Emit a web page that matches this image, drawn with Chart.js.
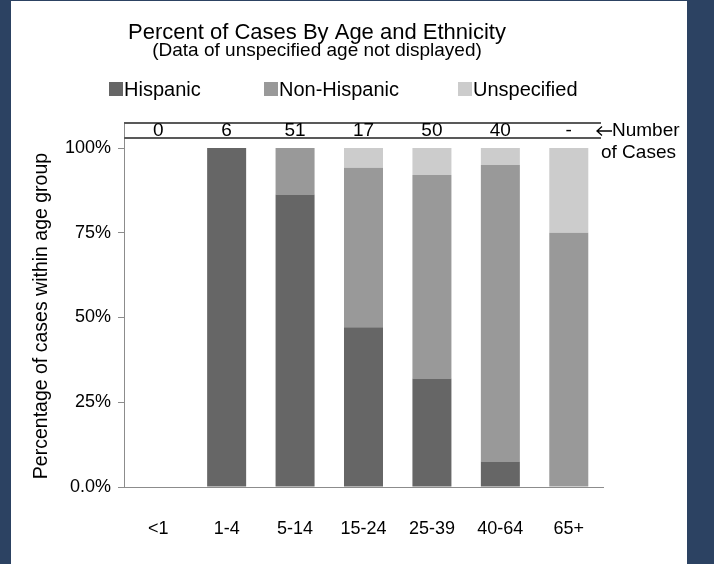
<!DOCTYPE html>
<html>
<head>
<meta charset="utf-8">
<script src="https://cdn.jsdelivr.net/npm/chart.js@4/dist/chart.umd.min.js"></script>
<style>
  html, body { margin: 0; padding: 0; background: #2c4262; }
  #c { display: block; }
</style>
</head>
<body>
<canvas id="c" width="714" height="564"></canvas>
<script>
// Age groups along the x axis
const ageGroups = ['<1', '1-4', '5-14', '15-24', '25-39', '40-64', '65+'];
// Share of cases within each age group (percent)
const hispanic    = [0, 100, 86.3, 47.1, 32, 7.5, 0];
const nonHispanic = [0, 0, 13.7, 47.1, 60, 87.5, 75];
const unspecified = [0, 0, 0, 5.9, 8, 5, 25];
// Number of cases per age group, shown in the strip above the bars
const caseCounts = ['0', '6', '51', '17', '50', '40', '-'];
// Percent ticks on the y axis
const yTicks = [0, 25, 50, 75, 100];

const FONT = '"Liberation Sans", Arial, Helvetica, sans-serif';
const NAVY = '#2c4262';
const AXIS = '#8c8c8c';

const framePlugin = {
  id: 'frame',
  beforeDraw(chart) {
    const ctx = chart.ctx;
    ctx.save();
    ctx.fillStyle = NAVY;
    ctx.fillRect(0, 0, chart.width, chart.height);
    ctx.fillStyle = '#ffffff';
    ctx.fillRect(11, 1, 676, chart.height - 1);
    ctx.restore();
  },
  afterDraw(chart) {
    const ctx = chart.ctx;
    const area = chart.chartArea;
    const xs = chart.scales.x;
    ctx.save();
    ctx.fillStyle = '#000';
    ctx.textAlign = 'center';
    ctx.textBaseline = 'middle';

    // Titles
    ctx.font = '22px ' + FONT;
    ctx.fillText('Percent of Cases By Age and Ethnicity', 317, 33);
    ctx.font = '19px ' + FONT;
    ctx.fillText('(Data of unspecified age not displayed)', 317, 51);

    // Legend
    const legendX = [109, 264, 458];
    ctx.textAlign = 'left';
    ctx.font = '20px ' + FONT;
    chart.data.datasets.forEach((ds, i) => {
      ctx.fillStyle = ds.backgroundColor;
      ctx.fillRect(legendX[i], 82, 14, 14);
      ctx.fillStyle = '#000';
      ctx.fillText(ds.label, legendX[i] + 15, 90);
    });

    // Y axis continues up through the case-count strip
    ctx.strokeStyle = AXIS;
    ctx.lineWidth = 1;
    ctx.beginPath();
    ctx.moveTo(area.left + 0.5, 122);
    ctx.lineTo(area.left + 0.5, area.top);
    ctx.stroke();

    // Case-count strip
    ctx.strokeStyle = '#595959';
    ctx.lineWidth = 2;
    ctx.beginPath();
    ctx.moveTo(area.left, 123);
    ctx.lineTo(area.right - 2, 123);
    ctx.moveTo(area.left, 138);
    ctx.lineTo(area.right - 2, 138);
    ctx.stroke();
    ctx.textAlign = 'center';
    ctx.font = '19px ' + FONT;
    caseCounts.forEach((n, i) => {
      ctx.fillText(n, xs.getPixelForValue(i), 131);
    });

    // Arrow pointing at the strip, with its caption
    ctx.strokeStyle = '#000';
    ctx.lineWidth = 1.3;
    ctx.beginPath();
    ctx.moveTo(597, 131);
    ctx.lineTo(612, 131);
    ctx.moveTo(602, 126.5);
    ctx.lineTo(597, 131);
    ctx.lineTo(602, 135.5);
    ctx.stroke();
    ctx.textAlign = 'left';
    ctx.fillText('Number', 612, 131);
    ctx.fillText('of Cases', 601, 153);

    // Y axis title
    ctx.save();
    ctx.translate(42, 316);
    ctx.rotate(-Math.PI / 2);
    ctx.textAlign = 'center';
    ctx.font = '19.5px ' + FONT;
    ctx.fillText('Percentage of cases within age group', 0, 0);
    ctx.restore();

    ctx.restore();
  }
};

new Chart(document.getElementById('c'), {
  type: 'bar',
  data: {
    labels: ageGroups,
    datasets: [
      { label: 'Hispanic', data: hispanic, backgroundColor: '#666666' },
      { label: 'Non-Hispanic', data: nonHispanic, backgroundColor: '#999999' },
      { label: 'Unspecified', data: unspecified, backgroundColor: '#cccccc' }
    ]
  },
  options: {
    responsive: false,
    animation: false,
    devicePixelRatio: 1,
    layout: { padding: { left: 0, top: 148, right: 111, bottom: 0 } },
    datasets: { bar: { categoryPercentage: 1, barPercentage: 0.57 } },
    plugins: {
      legend: { display: false },
      title: { display: false },
      tooltip: { enabled: false }
    },
    scales: {
      x: {
        stacked: true,
        grid: { display: true, drawOnChartArea: false, drawTicks: false, tickLength: 0 },
        border: { display: true, color: AXIS, width: 1 },
        ticks: { color: '#000', font: { family: FONT, size: 18 }, padding: 31, maxRotation: 0 },
        afterFit(scale) { scale.height = 77; }
      },
      y: {
        stacked: true,
        min: 0,
        max: 100,
        afterBuildTicks(scale) { scale.ticks = yTicks.map(v => ({ value: v })); },
        grid: { display: true, drawOnChartArea: false, drawTicks: true, tickLength: 6, tickColor: AXIS },
        border: { display: true, color: AXIS, width: 1 },
        ticks: {
          color: '#000',
          font: { family: FONT, size: 18 },
          padding: 7,
          callback: v => (v === 0 ? '0.0%' : v + '%')
        },
        afterFit(scale) { scale.width = 124; }
      }
    }
  },
  plugins: [framePlugin]
});
</script>
</body>
</html>
